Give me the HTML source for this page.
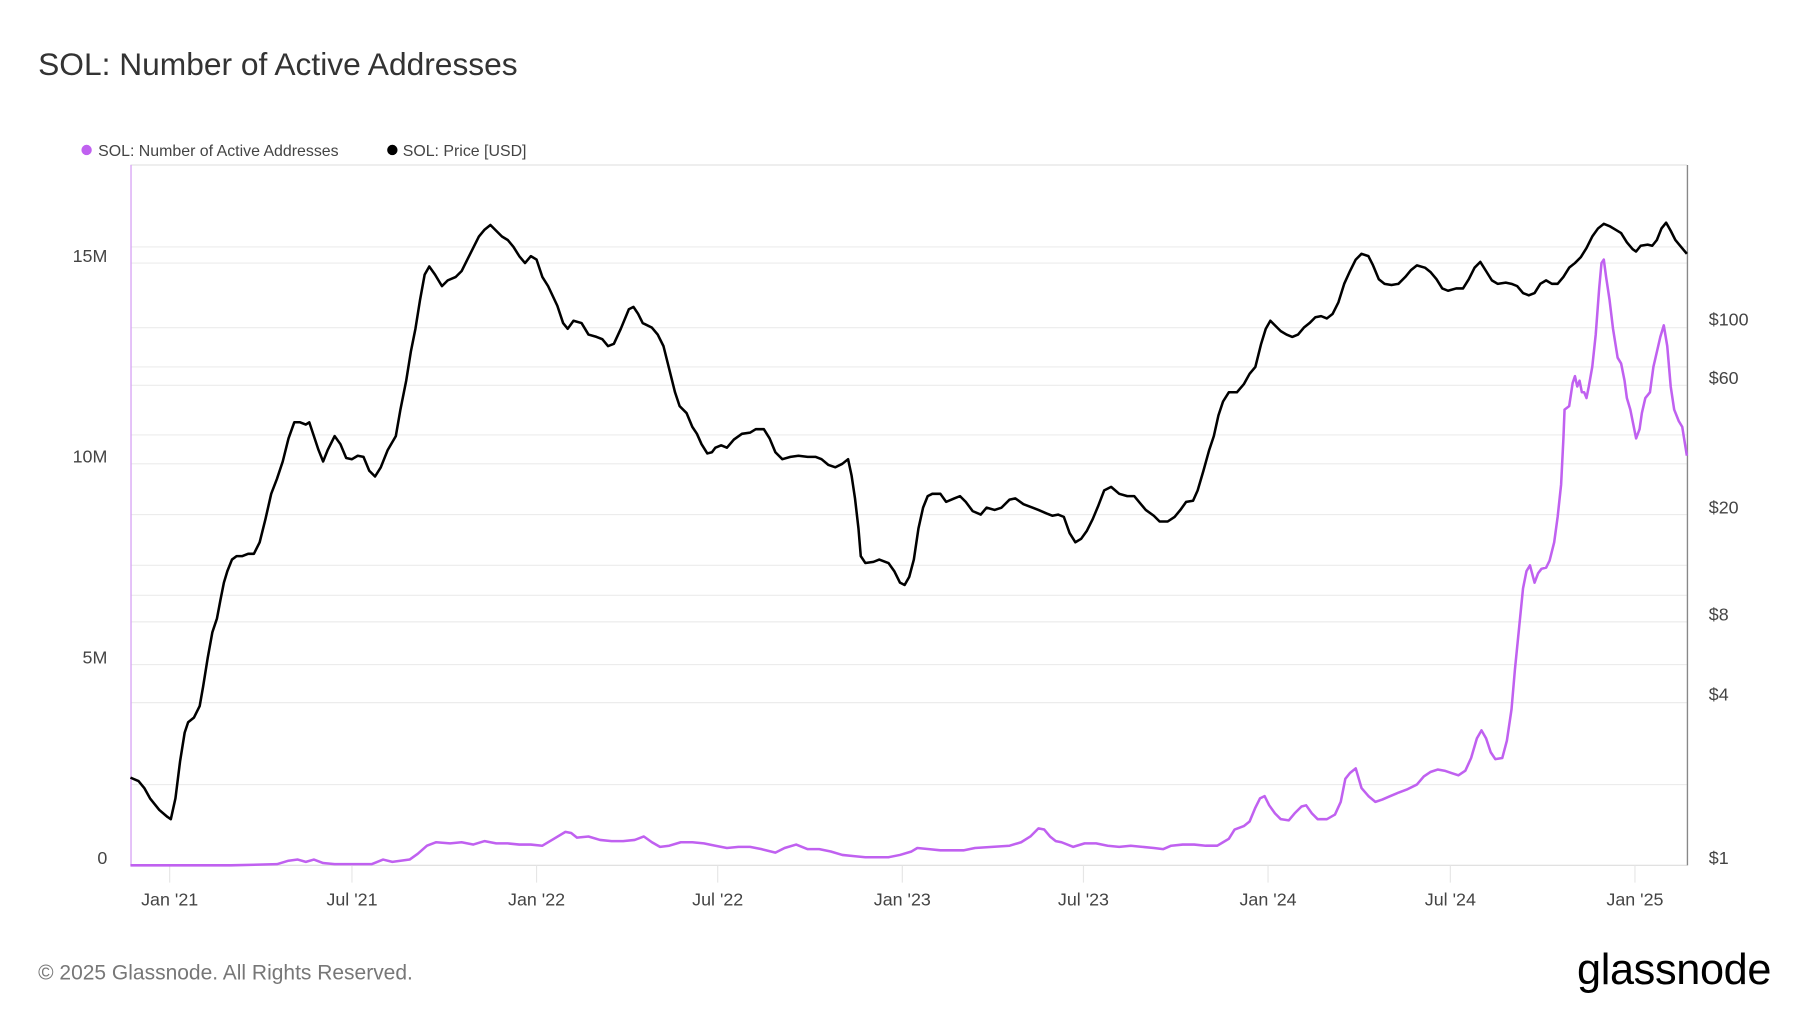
<!DOCTYPE html>
<html><head><meta charset="utf-8"><style>
html,body{margin:0;padding:0;background:#fff;}
svg{display:block;}
text{font-family:"Liberation Sans",sans-serif;}
</style></head><body>
<svg width="1800" height="1013" viewBox="0 0 1560 878" xmlns="http://www.w3.org/2000/svg">
<rect width="1560" height="878" fill="#fff"/>
<text x="33" y="65" font-size="27.5" fill="#333">SOL: Number of Active Addresses</text>
<circle cx="75" cy="130" r="4.5" fill="#c061f0"/>
<text x="85" y="135" font-size="13.8" fill="#444">SOL: Number of Active Addresses</text>
<circle cx="340" cy="130" r="4.5" fill="#000"/>
<text x="349" y="135" font-size="13.8" fill="#444">SOL: Price [USD]</text>
<g stroke="#ececec" stroke-width="1">
<line x1="113" y1="143" x2="1462" y2="143" stroke="#e4e4e4"/>
<line x1="113" y1="576" x2="1462" y2="576"/>
<line x1="113" y1="402" x2="1462" y2="402"/>
<line x1="113" y1="228" x2="1462" y2="228"/>
<line x1="113" y1="680" x2="1462" y2="680"/>
<line x1="113" y1="609" x2="1462" y2="609"/>
<line x1="113" y1="539" x2="1462" y2="539"/>
<line x1="113" y1="516" x2="1462" y2="516"/>
<line x1="113" y1="446" x2="1462" y2="446"/>
<line x1="113" y1="377" x2="1462" y2="377"/>
<line x1="113" y1="334" x2="1462" y2="334"/>
<line x1="113" y1="318" x2="1462" y2="318"/>
<line x1="113" y1="284" x2="1462" y2="284"/>
<line x1="113" y1="214" x2="1462" y2="214"/>
<line x1="113" y1="490" x2="1462" y2="490"/>
</g>
<line x1="113" y1="750" x2="1462" y2="750" stroke="#ddd"/>
<line x1="113.5" y1="143" x2="113.5" y2="750" stroke="#d9a8f5" stroke-width="1.2"/>
<line x1="1462.5" y1="143" x2="1462.5" y2="750" stroke="#888" stroke-width="1.2"/>
<g stroke="#e6e6e6"><line x1="147" y1="750" x2="147" y2="765"/><line x1="305" y1="750" x2="305" y2="765"/><line x1="465" y1="750" x2="465" y2="765"/><line x1="622" y1="750" x2="622" y2="765"/><line x1="782" y1="750" x2="782" y2="765"/><line x1="939" y1="750" x2="939" y2="765"/><line x1="1099" y1="750" x2="1099" y2="765"/><line x1="1257" y1="750" x2="1257" y2="765"/><line x1="1417" y1="750" x2="1417" y2="765"/></g>
<g font-size="15.5" fill="#444" text-anchor="end">
<text x="93" y="227">15M</text><text x="93" y="401">10M</text><text x="93" y="575">5M</text><text x="93" y="749">0</text>
</g>
<g font-size="15.5" fill="#444">
<text x="1481" y="282">$100</text><text x="1481" y="333">$60</text><text x="1481" y="445">$20</text><text x="1481" y="538">$8</text><text x="1481" y="607">$4</text><text x="1481" y="749">$1</text>
</g>
<g font-size="15.5" fill="#444" text-anchor="middle">
<text x="147" y="785">Jan '21</text><text x="305" y="785">Jul '21</text><text x="465" y="785">Jan '22</text><text x="622" y="785">Jul '22</text><text x="782" y="785">Jan '23</text><text x="939" y="785">Jul '23</text><text x="1099" y="785">Jan '24</text><text x="1257" y="785">Jul '24</text><text x="1417" y="785">Jan '25</text>
</g>
<polyline fill="none" stroke="#c061f0" stroke-width="2.2" stroke-linejoin="round" points="113,750 200,750 240,749 250,746 258,745 265,747 272,745 280,748 290,749 310,749 322,749 332,745 340,747 355,745 362,740 370,733 378,730 390,731 400,730 410,732 420,729 430,731 440,731 450,732 460,732 470,733 480,727 490,721 495,722 500,726 510,725 520,728 530,729 540,729 550,728 558,725 565,730 572,734 580,733 590,730 600,730 610,731 620,733 630,735 640,734 650,734 660,736 672,739 680,735 690,732 700,736 710,736 720,738 730,741 740,742 750,743 760,743 770,743 780,741 790,738 795,735 805,736 815,737 825,737 835,737 845,735 860,734 875,733 885,730 893,725 900,718 905,719 910,725 915,729 920,730 930,734 940,731 950,731 960,733 970,734 980,733 990,734 1000,735 1008,736 1015,733 1025,732 1035,732 1045,733 1055,733 1060,730 1065,727 1070,719 1078,716 1083,712 1088,700 1092,692 1096,690 1100,698 1105,705 1110,710 1117,711 1122,705 1128,699 1132,698 1137,705 1142,710 1150,710 1157,706 1162,695 1166,675 1170,670 1175,666 1180,683 1186,690 1192,695 1198,693 1205,690 1212,687 1220,684 1228,680 1234,673 1240,669 1246,667 1252,668 1258,670 1264,672 1270,668 1275,657 1280,640 1284,633 1288,640 1292,652 1296,658 1302,657 1306,642 1310,615 1313,580 1316,550 1320,510 1323,495 1326,490 1330,505 1333,497 1336,493 1340,492 1343,486 1347,470 1350,448 1353,420 1355,380 1356,355 1360,352 1363,332 1365,326 1367,335 1369,330 1371,340 1373,340 1375,345 1377,335 1380,318 1383,290 1386,250 1388,228 1390,225 1392,240 1395,260 1398,285 1402,310 1405,315 1408,330 1410,345 1413,355 1415,365 1418,380 1421,372 1423,358 1426,345 1430,340 1433,318 1436,305 1439,292 1442,282 1445,300 1448,335 1451,355 1455,365 1458,370 1462,395"/>
<polyline fill="none" stroke="#000" stroke-width="2.2" stroke-linejoin="round" points="113,674 120,677 125,683 130,692 138,702 145,708 148,710 152,692 156,660 160,635 163,626 168,622 173,612 176,595 180,570 184,548 188,536 191,520 194,505 197,495 201,485 205,482 210,482 215,480 220,480 225,470 230,450 235,428 240,415 245,400 250,380 255,366 260,366 265,368 268,366 272,378 276,390 280,400 284,390 290,378 295,385 300,397 305,398 310,395 315,396 320,408 325,413 330,405 336,390 343,378 347,355 352,330 356,305 360,285 364,260 368,238 372,231 377,238 383,248 388,243 395,240 400,235 405,225 410,215 415,205 420,199 425,195 430,200 435,205 440,208 445,214 450,222 455,228 460,222 465,225 470,240 475,248 483,265 488,280 492,285 497,278 504,280 510,290 517,292 522,294 527,300 532,298 538,285 545,268 549,266 553,272 557,280 565,284 570,290 575,300 580,320 585,340 589,352 595,358 600,370 604,376 608,385 613,393 617,392 620,388 625,386 630,388 636,381 643,376 650,375 655,372 662,372 667,380 672,392 678,398 685,396 692,395 700,396 707,396 712,398 718,403 724,405 730,402 735,398 738,412 741,432 744,458 746,482 750,488 757,487 762,485 770,488 775,495 780,505 784,507 788,500 792,485 796,458 800,440 804,430 808,428 815,428 820,435 827,432 832,430 837,435 843,443 850,446 855,440 862,442 868,440 875,433 880,432 887,437 895,440 900,442 907,445 912,447 917,446 922,448 927,462 932,470 937,467 942,460 947,450 952,438 957,425 963,422 970,428 977,430 983,430 988,436 993,442 1000,447 1005,452 1012,452 1018,448 1023,442 1028,435 1034,434 1038,425 1043,408 1048,390 1052,378 1056,360 1060,348 1065,340 1072,340 1078,333 1083,324 1088,318 1093,298 1097,285 1101,278 1105,282 1110,287 1115,290 1120,292 1125,290 1130,284 1135,280 1140,275 1145,274 1150,276 1155,272 1160,262 1165,246 1170,235 1175,225 1180,220 1186,222 1190,230 1195,242 1200,246 1206,247 1212,246 1218,240 1223,234 1228,230 1235,232 1240,236 1245,242 1250,250 1255,252 1262,250 1268,250 1273,242 1278,232 1283,227 1288,235 1293,243 1298,246 1305,245 1310,246 1315,248 1320,254 1325,256 1330,254 1335,246 1340,243 1345,246 1350,246 1355,240 1360,232 1365,228 1370,223 1375,215 1380,205 1385,198 1390,194 1395,196 1400,199 1405,202 1410,210 1415,216 1418,218 1422,213 1428,212 1432,213 1436,208 1440,198 1444,193 1448,200 1452,208 1457,214 1462,220"/>
<text x="33" y="849" font-size="18.2" fill="#777">© 2025 Glassnode. All Rights Reserved.</text>
<text x="1535" y="853" font-size="37.5" fill="#000" text-anchor="end" letter-spacing="-0.3">glassnode</text>
</svg>
</body></html>
